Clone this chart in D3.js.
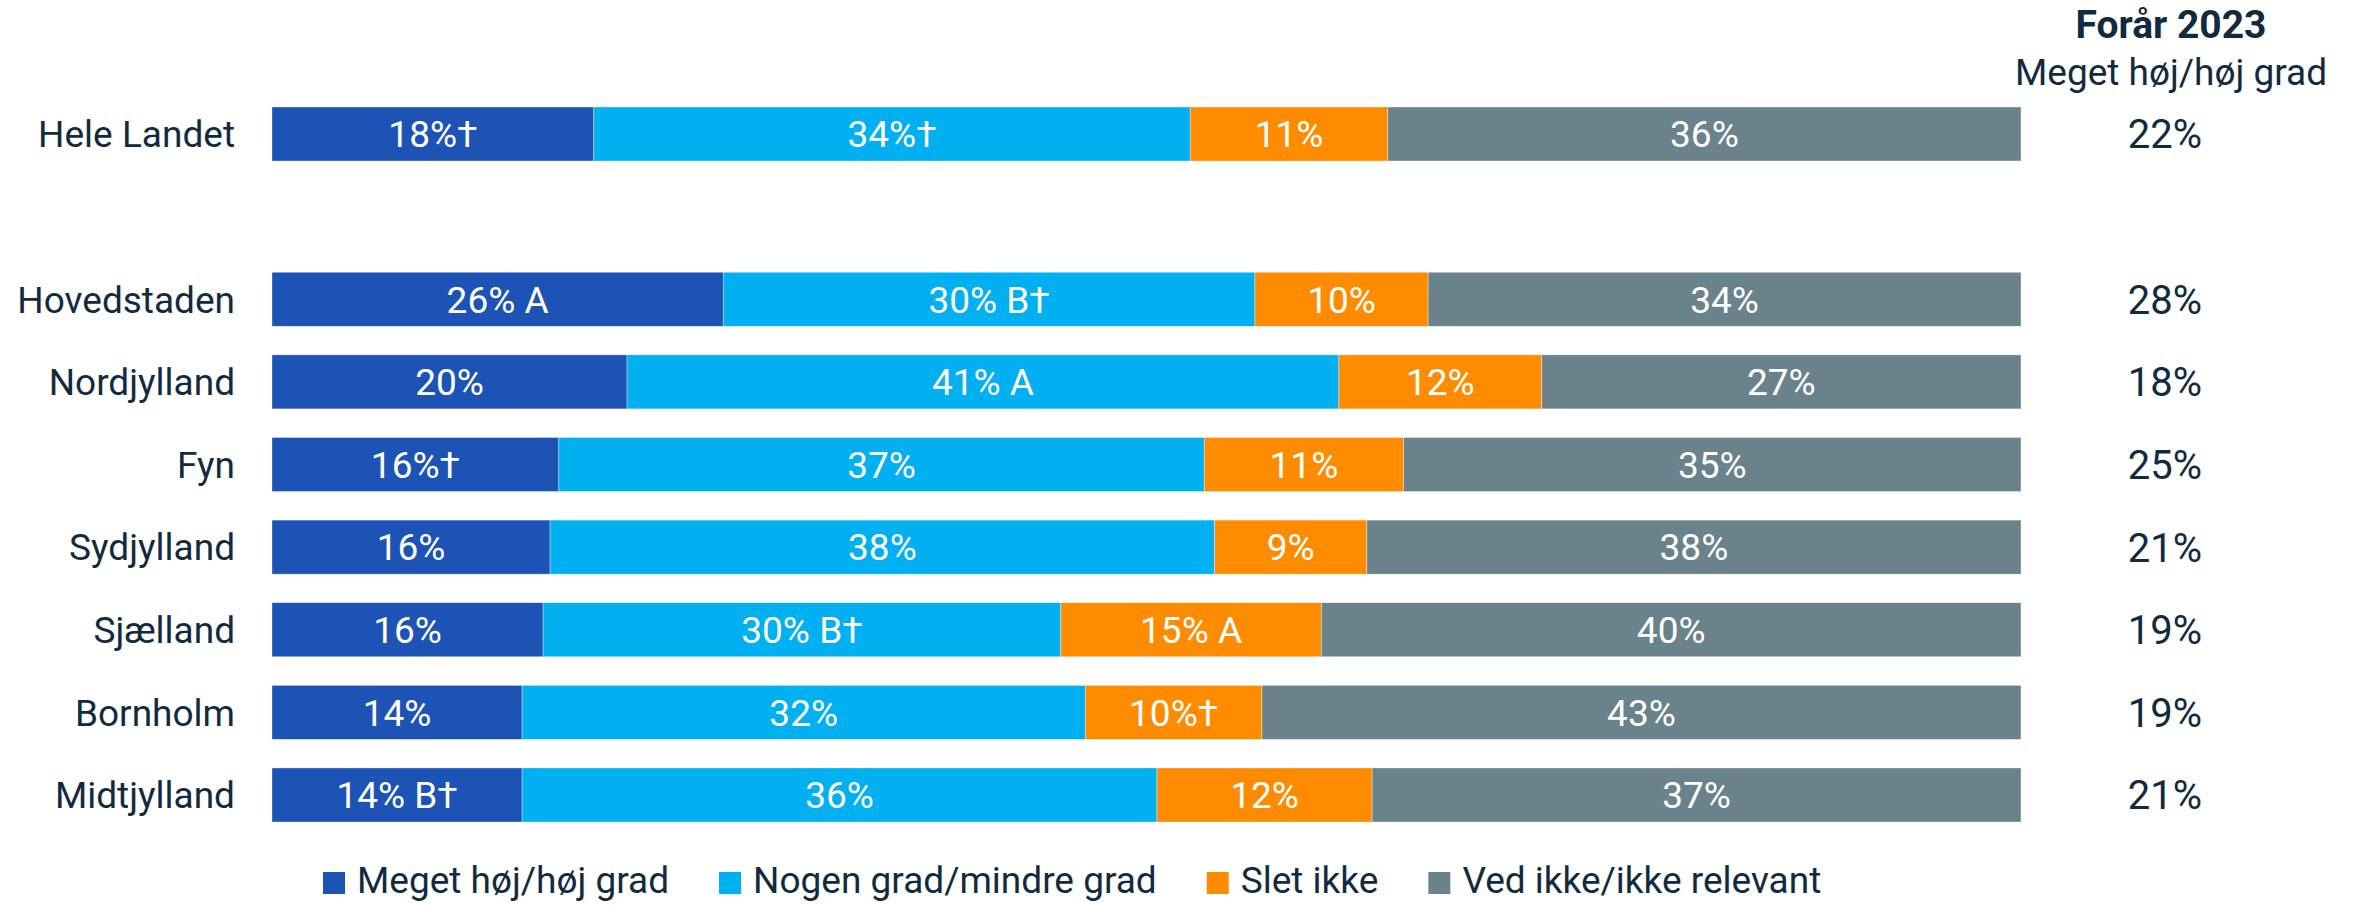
<!DOCTYPE html>
<html>
<head>
<meta charset="utf-8">
<script src="https://cdn.jsdelivr.net/npm/d3@7"></script>
<style>
  html, body { margin: 0; padding: 0; background: #ffffff; }
  svg { display: block; }
</style>
</head>
<body>
<svg id="chart" width="2356" height="905"></svg>
<script>
// ---------- DATA ----------
const categories = ["Hele Landet", "Hovedstaden", "Nordjylland", "Fyn", "Sydjylland", "Sjælland", "Bornholm", "Midtjylland"];
const seriesNames = ["Meget høj/høj grad", "Nogen grad/mindre grad", "Slet ikke", "Ved ikke/ikke relevant"];
// segment sizes (percent)
const megetHoj   = [18.4, 25.8, 20.3, 16.4, 15.9, 15.5, 14.3, 14.3];
const nogenGrad  = [34.1, 30.4, 40.7, 36.9, 38.0, 29.6, 32.2, 36.3];
const sletIkke   = [11.3,  9.9, 11.6, 11.4,  8.7, 14.9, 10.1, 12.3];
const vedIkke    = [36.2, 33.9, 27.4, 35.3, 37.4, 40.0, 43.4, 37.1];
// labels printed on the segments
const megetHojLabels  = ["18%†", "26% A", "20%", "16%†", "16%", "16%", "14%", "14% B†"];
const nogenGradLabels = ["34%†", "30% B†", "41% A", "37%", "38%", "30% B†", "32%", "36%"];
const sletIkkeLabels  = ["11%", "10%", "12%", "11%", "9%", "15% A", "10%†", "12%"];
const vedIkkeLabels   = ["36%", "34%", "27%", "35%", "38%", "40%", "43%", "37%"];
// comparison column
const compareTitle = "Forår 2023";
const compareSubtitle = "Meget høj/høj grad";
const compareValues = ["22%", "28%", "18%", "25%", "21%", "19%", "19%", "21%"];

const colors = ["#1c53b4", "#00b0f0", "#ff8c00", "#6a828b"];
const textColor = "#122a40";
const FONT = "Roboto, 'Noto Sans', sans-serif";

// ---------- SCALES ----------
const svg = d3.select("#chart");
const GAP = "__gap__";
const yDomain = [categories[0], GAP, ...categories.slice(1)];
const y = d3.scaleBand().domain(yDomain).range([107, 822]).paddingInner(0.346).paddingOuter(0);
const x = d3.scaleLinear().domain([0, 100]).range([272, 2021]);

const series = [megetHoj, nogenGrad, sletIkke, vedIkke];
const seriesLabels = [megetHojLabels, nogenGradLabels, sletIkkeLabels, vedIkkeLabels];

const rows = categories.map((c, i) => {
  let acc = 0;
  const segs = series.map((s, k) => {
    const x0 = acc; acc += s[i];
    return { cat: c, k, x0, x1: acc, label: seriesLabels[k][i] };
  });
  const total = acc;
  segs.forEach(sg => { sg.x0 = sg.x0 / total * 100; sg.x1 = sg.x1 / total * 100; });
  return { cat: c, segs, compare: compareValues[i] };
});

// ---------- BARS ----------
const g = svg.append("g");
const rowG = g.selectAll("g.row").data(rows).join("g").attr("class", "row");

rowG.selectAll("rect").data(d => d.segs).join("rect")
  .attr("x", d => x(d.x0))
  .attr("y", d => y(d.cat))
  .attr("width", d => x(d.x1) - x(d.x0))
  .attr("height", y.bandwidth())
  .attr("fill", d => colors[d.k])
  .attr("stroke", "#ffffff")
  .attr("stroke-width", 0.6)
  .attr("stroke-opacity", 0.6);

rowG.selectAll("text.seg").data(d => d.segs).join("text")
  .attr("class", "seg")
  .attr("x", d => (x(d.x0) + x(d.x1)) / 2)
  .attr("y", d => y(d.cat) + y.bandwidth() / 2)
  .attr("dy", "0.36em")
  .attr("text-anchor", "middle")
  .attr("fill", "#ffffff")
  .style("font-family", FONT)
  .style("font-size", "37px")
  .text(d => d.label);

// category axis labels
const yAxis = d3.axisLeft(y).tickSize(0).tickPadding(0).tickFormat(d => d === GAP ? "" : d);
const axG = svg.append("g").attr("transform", "translate(235,0)").call(yAxis);
axG.select(".domain").remove();
axG.selectAll("text")
  .attr("fill", textColor)
  .attr("dy", "0.36em")
  .style("font-family", FONT)
  .style("font-size", "37px");

// comparison column
svg.append("text")
  .attr("x", 2171).attr("y", 38)
  .attr("text-anchor", "middle")
  .attr("fill", textColor)
  .style("font-family", FONT).style("font-weight", "700").style("font-size", "39px")
  .text(compareTitle);
svg.append("text")
  .attr("x", 2171).attr("y", 85)
  .attr("text-anchor", "middle")
  .attr("fill", textColor)
  .style("font-family", FONT).style("font-size", "37px")
  .text(compareSubtitle);
svg.selectAll("text.cmp").data(rows).join("text")
  .attr("class", "cmp")
  .attr("x", 2165)
  .attr("y", d => y(d.cat) + y.bandwidth() / 2)
  .attr("dy", "0.36em")
  .attr("text-anchor", "middle")
  .attr("fill", textColor)
  .style("font-family", FONT).style("font-size", "40px")
  .text(d => d.compare);

// ---------- LEGEND ----------
const legend = svg.append("g").attr("transform", "translate(323,880)");
let lx = 0;
seriesNames.forEach((name, k) => {
  const item = legend.append("g").attr("transform", `translate(${lx},0)`);
  item.append("rect").attr("x", 0).attr("y", -8).attr("width", 22).attr("height", 22).attr("fill", colors[k]);
  const t = item.append("text").attr("x", 34).attr("y", 0).attr("dy", "0.36em")
    .attr("fill", textColor)
    .style("font-family", FONT).style("font-size", "37px")
    .text(name);
  lx += 34 + t.node().getComputedTextLength() + 50;
});
</script>
</body>
</html>
